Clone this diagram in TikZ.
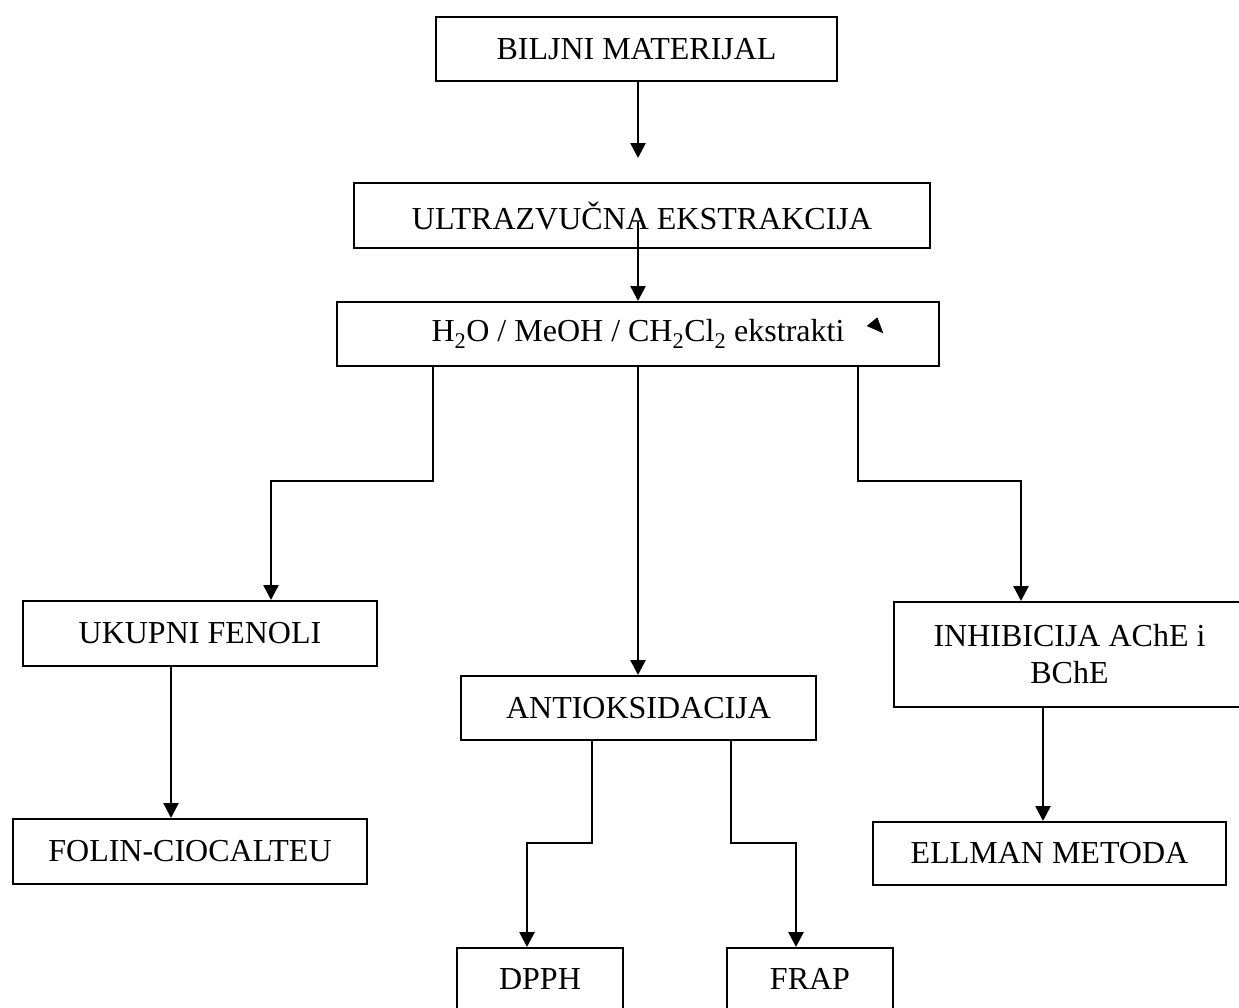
\documentclass[tikz,border=0pt]{standalone}
\usepackage{fontspec}
\setmainfont{Liberation Serif}
\usepackage{tikz}
\usetikzlibrary{arrows.meta}

\begin{document}
\begin{tikzpicture}[x=1pt,y=-1pt,
    box/.style={draw,line width=2pt,inner sep=0pt,font=\fontsize{32}{37}\selectfont},
    arr/.style={line width=2.6pt,-{Triangle[width=15pt,length=15pt]}}]
      \useasboundingbox (0,0) rectangle (1239,1007);
      \node[box,minimum width=401pt,minimum height=64pt](biljni) at (636.5,49){BILJNI MATERIJAL};
      \node[box,minimum width=576pt,minimum height=65pt](ultrazvucna) at (642,215.5){ULTRAZVUČNA EKSTRAKCIJA};
      \node[box,minimum width=602pt,minimum height=64pt](ekstrakti) at (638,334){H\textsubscript{2}O / MeOH / CH\textsubscript{2}Cl\textsubscript{2} ekstrakti};
      \node[box,minimum width=354pt,minimum height=65pt](fenoli) at (200,633.5){UKUPNI FENOLI};
      \node[box,minimum width=354pt,minimum height=65pt](folin) at (190,851.5){FOLIN-CIOCALTEU};
      \node[box,minimum width=355pt,minimum height=64pt](antioksidacija) at (638.5,708){ANTIOKSIDACIJA};
      \node[box,minimum width=351pt,minimum height=105pt,align=center](inhibicija) at (1069.5,654.5){INHIBICIJA AChE i\\BChE};
      \node[box,minimum width=353pt,minimum height=63pt](ellman) at (1049.5,853.5){ELLMAN METODA};
      \node[box,minimum width=166pt,minimum height=62pt](dpph) at (540,979){DPPH};
      \node[box,minimum width=166pt,minimum height=62pt](frap) at (810,979){FRAP};
      \coordinate (t1) at (638,158);
      \coordinate (c1) at (638,222);
      \coordinate (l1) at (433,481);
      \coordinate (l2) at (271,481);
      \coordinate (r1) at (858,481);
      \coordinate (r2) at (1021,481);
      \coordinate (f1) at (171,750);
      \coordinate (e1) at (1043,760);
      \coordinate (d1) at (592,843);
      \coordinate (d2) at (527,843);
      \coordinate (p1) at (731,843);
      \coordinate (p2) at (796,843);
      \draw[arr] (biljni.south -| t1) -- (t1);
      \draw[arr] (c1) -- (c1 |- ekstrakti.north);
      \draw[arr] (l1 |- ekstrakti.south) -- (l1) -- (l2) -- (l2 |- fenoli.north);
      \draw[arr] (ekstrakti.south -| c1) -- (antioksidacija.north -| c1);
      \draw[arr] (r1 |- ekstrakti.south) -- (r1) -- (r2) -- (r2 |- inhibicija.north);
      \draw[arr] (f1 |- fenoli.south) -- (f1 |- folin.north);
      \draw[arr] (e1 |- inhibicija.south) -- (e1 |- ellman.north);
      \draw[arr] (d1 |- antioksidacija.south) -- (d1) -- (d2) -- (d2 |- dpph.north);
      \draw[arr] (p1 |- antioksidacija.south) -- (p1) -- (p2) -- (p2 |- frap.north);
      \fill (866.7,326) -- (877.3,317.3) -- (883.3,333.3) -- cycle;
\end{tikzpicture}
\end{document}
